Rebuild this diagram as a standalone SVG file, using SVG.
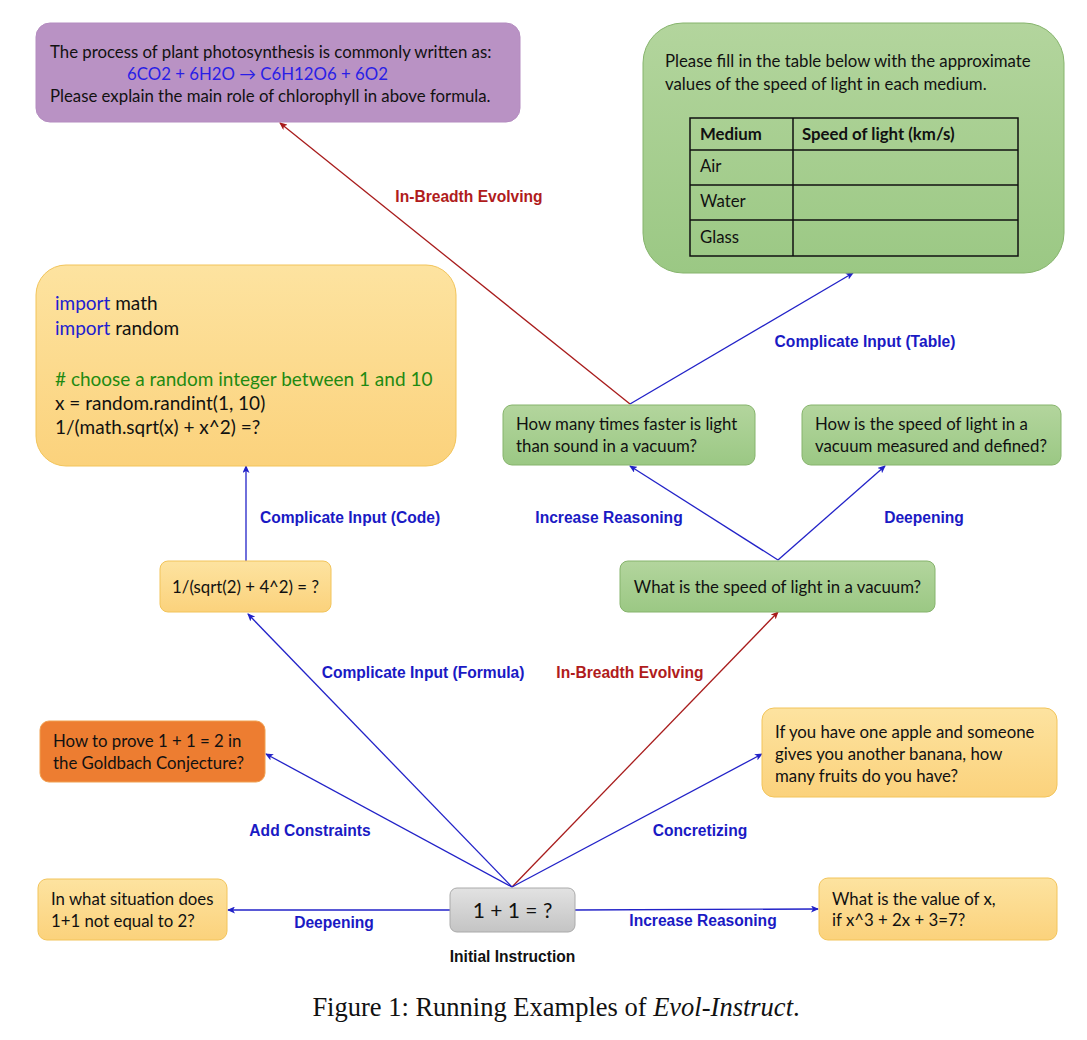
<svg xmlns="http://www.w3.org/2000/svg" width="1087" height="1040" viewBox="0 0 1087 1040">
<defs>
<linearGradient id="gY" x1="0" y1="0" x2="0" y2="1"><stop offset="0" stop-color="#fde3a0"/><stop offset="1" stop-color="#fbd27c"/></linearGradient>
<linearGradient id="gG" x1="0" y1="0" x2="0" y2="1"><stop offset="0" stop-color="#b3d59d"/><stop offset="1" stop-color="#9bc884"/></linearGradient>
<linearGradient id="gGr" x1="0" y1="0" x2="0" y2="1"><stop offset="0" stop-color="#e2e2e2"/><stop offset="1" stop-color="#c4c4c4"/></linearGradient>
<marker id="aB" viewBox="0 0 8 7" refX="7" refY="3.5" markerWidth="8" markerHeight="7" markerUnits="userSpaceOnUse" orient="auto"><path d="M0,0 L8,3.5 L0,7 L2,3.5 z" fill="#2222c8"/></marker>
<marker id="aR" viewBox="0 0 8 7" refX="7" refY="3.5" markerWidth="8" markerHeight="7" markerUnits="userSpaceOnUse" orient="auto"><path d="M0,0 L8,3.5 L0,7 L2,3.5 z" fill="#a81c1c"/></marker>
</defs>
<style>
.t{font-family:Lato,"Noto Sans",sans-serif;font-size:16.8px;fill:#111}
.code{font-family:Lato,"Noto Sans",sans-serif;font-size:19px;fill:#111}
.lb{font-family:"Liberation Sans",Arial,sans-serif;font-size:15.6px;font-weight:bold;fill:#1a1ac4}
.lr{font-family:"Liberation Sans",Arial,sans-serif;font-size:15.6px;font-weight:bold;fill:#b01c1c}
.y{fill:url(#gY);stroke:#f2c45a;stroke-width:1}
.g{fill:url(#gG);stroke:#86b46c;stroke-width:1}
.eb{stroke:#2222c8;stroke-width:1.3;fill:none;marker-end:url(#aB)}
.er{stroke:#a81c1c;stroke-width:1.3;fill:none;marker-end:url(#aR)}
</style>
<rect width="1087" height="1040" fill="#ffffff"/>

<g id="connectors">
<line class="er" x1="630" y1="404" x2="280" y2="123"/>
<line class="eb" x1="630" y1="404" x2="853" y2="273"/>
<line class="eb" x1="246" y1="561" x2="246" y2="466"/>
<line class="eb" x1="778" y1="560" x2="630" y2="466"/>
<line class="eb" x1="778" y1="560" x2="885" y2="466"/>
<line class="eb" x1="512" y1="887" x2="248" y2="614"/>
<line class="er" x1="512" y1="887" x2="778" y2="612"/>
<line class="eb" x1="512" y1="887" x2="266" y2="754"/>
<line class="eb" x1="512" y1="887" x2="762" y2="754"/>
<line class="eb" x1="450" y1="910" x2="228" y2="910"/>
<line class="eb" x1="575" y1="910" x2="818" y2="909"/>
<text class="lr" x="469" y="202" text-anchor="middle">In-Breadth Evolving</text>
<text class="lb" x="865" y="347" text-anchor="middle">Complicate Input (Table)</text>
<text class="lb" x="350" y="523" text-anchor="middle">Complicate Input (Code)</text>
<text class="lb" x="609" y="523" text-anchor="middle">Increase Reasoning</text>
<text class="lb" x="924" y="523" text-anchor="middle">Deepening</text>
<text class="lb" x="423" y="678" text-anchor="middle">Complicate Input (Formula)</text>
<text class="lr" x="630" y="678" text-anchor="middle">In-Breadth Evolving</text>
<text class="lb" x="310" y="836" text-anchor="middle">Add Constraints</text>
<text class="lb" x="700" y="836" text-anchor="middle">Concretizing</text>
<text class="lb" x="334" y="928" text-anchor="middle">Deepening</text>
<text class="lb" x="703" y="926" text-anchor="middle">Increase Reasoning</text>
</g>

<g id="n-photosynthesis">
<rect x="36" y="23" width="484" height="99" rx="14" fill="#b992c4" stroke="#b48cc0"/>
<text class="t" x="50" y="58">The process of plant photosynthesis is commonly written as:</text>
<text class="t" x="127" y="80" style="fill:#2a1ee6">6CO2 + 6H2O → C6H12O6 + 6O2</text>
<text class="t" x="50" y="102">Please explain the main role of chlorophyll in above formula.</text>
</g>

<g id="n-table">
<rect x="643" y="23" width="421" height="250" rx="40" class="g"/>
<text class="t" x="665" y="67">Please fill in the table below with the approximate</text>
<text class="t" x="665" y="90">values of the speed of light in each medium.</text>
<g fill="none" stroke="#111" stroke-width="1.5">
<rect x="690" y="118" width="328" height="138"/>
<line x1="793" y1="118" x2="793" y2="256"/>
<line x1="690" y1="150" x2="1018" y2="150"/>
<line x1="690" y1="185" x2="1018" y2="185"/>
<line x1="690" y1="220" x2="1018" y2="220"/>
</g>
<text class="t" x="700" y="140" style="font-weight:bold">Medium</text>
<text class="t" x="802" y="140" style="font-weight:bold">Speed of light (km/s)</text>
<text class="t" x="700" y="172">Air</text>
<text class="t" x="700" y="207">Water</text>
<text class="t" x="700" y="243">Glass</text>
</g>

<g id="n-code">
<rect x="36" y="265" width="420" height="201" rx="30" class="y"/>
<text class="code" x="55" y="310"><tspan fill="#2020d0">import</tspan> math</text>
<text class="code" x="55" y="335"><tspan fill="#2020d0">import</tspan> random</text>
<text class="code" x="55" y="386" style="fill:#1f8a12"># choose a random integer between 1 and 10</text>
<text class="code" x="55" y="410">x = random.randint(1, 10)</text>
<text class="code" x="55" y="434">1/(math.sqrt(x) + x^2) =?</text>
</g>

<g id="n-faster">
<rect x="503" y="405" width="252" height="60" rx="9" class="g"/>
<text class="t" x="516" y="430">How many times faster is light</text>
<text class="t" x="516" y="452">than sound in a vacuum?</text>
</g>

<g id="n-measured">
<rect x="802" y="405" width="259" height="60" rx="9" class="g"/>
<text class="t" x="815" y="430">How is the speed of light in a</text>
<text class="t" x="815" y="452">vacuum measured and defined?</text>
</g>

<g id="n-speed">
<rect x="620" y="561" width="315" height="51" rx="8" class="g"/>
<text class="t" x="777.5" y="593" text-anchor="middle">What is the speed of light in a vacuum?</text>
</g>

<g id="n-formula">
<rect x="160" y="561" width="171" height="51" rx="8" class="y"/>
<text class="t" x="245.5" y="593" text-anchor="middle">1/(sqrt(2) + 4^2) = ?</text>
</g>

<g id="n-goldbach">
<rect x="40" y="721" width="225" height="61" rx="9" fill="#ed7d31" stroke="#f0a050"/>
<text class="t" x="53" y="747">How to prove 1 + 1 = 2 in</text>
<text class="t" x="53" y="769">the Goldbach Conjecture?</text>
</g>

<g id="n-apple">
<rect x="762" y="708" width="295" height="89" rx="12" class="y"/>
<text class="t" x="775" y="738">If you have one apple and someone</text>
<text class="t" x="775" y="760">gives you another banana, how</text>
<text class="t" x="775" y="782">many fruits do you have?</text>
</g>

<g id="n-initial">
<rect x="450" y="888" width="125" height="44" rx="7" fill="url(#gGr)" stroke="#aaaaaa"/>
<text x="512.5" y="918" text-anchor="middle" style="font-family:Lato,'Noto Sans',sans-serif;font-size:21px;fill:#111">1 + 1 = ?</text>
<text x="512.5" y="962" text-anchor="middle" style="font-family:'Liberation Sans',Arial,sans-serif;font-size:15.6px;font-weight:bold;fill:#111">Initial Instruction</text>
</g>

<g id="n-situation">
<rect x="38" y="879" width="189" height="61" rx="9" class="y"/>
<text class="t" x="51" y="905">In what situation does</text>
<text class="t" x="51" y="927">1+1 not equal to 2?</text>
</g>

<g id="n-valuex">
<rect x="819" y="878" width="238" height="62" rx="9" class="y"/>
<text class="t" x="832" y="905">What is the value of x,</text>
<text class="t" x="832" y="926">if x^3 + 2x + 3=7?</text>
</g>

<text x="556" y="1016" text-anchor="middle" style="font-family:'Liberation Serif','Times New Roman',serif;font-size:26.5px;fill:#111">Figure 1: Running Examples of <tspan font-style="italic">Evol-Instruct</tspan>.</text>
</svg>
